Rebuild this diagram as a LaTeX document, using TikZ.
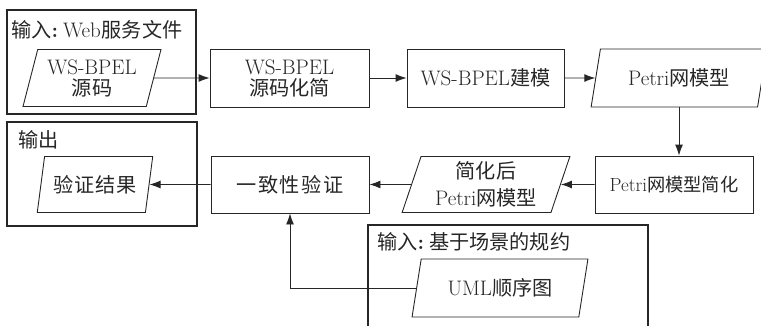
\documentclass[tikz,border=0pt]{standalone}
\usepackage{fontspec}
\newfontfamily\cjk{Noto Sans CJK SC}[Scale=0.96]
\newcommand\zhtext[1]{{\cjk #1}}
\usetikzlibrary{shapes.geometric,arrows.meta}
\definecolor{ink}{gray}{0.15}
\tikzset{
  base/.style={draw=ink, line width=0.9pt, inner sep=0pt, align=center, text=ink,
    font=\fontsize{21}{22}\selectfont},
  procbox/.style={base, rectangle},
  databox/.style={base, trapezium, trapezium left angle=72, trapezium right angle=108,
    trapezium stretches=true},
  frame/.style={draw=ink, line width=1.7pt, rectangle, inner sep=0pt},
  frametitle/.style={anchor=west, inner sep=0pt, text=ink, font=\fontsize{21}{22}\selectfont},
  arr/.style={draw=ink, line width=0.9pt, -{Latex[length=11pt,width=8pt]}}
}
\begin{document}
\begin{tikzpicture}[x=1pt, y=-1pt]
  \useasboundingbox (0,0) rectangle (761,325);
  \clip (0,0) rectangle (761,325);

  % containers for inputs and output
  \node[frame, minimum width=189, minimum height=104] (inframe) at (101.5,62) {};
  \node[frametitle] (intitle) at (11,30) {\zhtext{输入}\textbf{:}\hspace{5pt}Web\hspace{1pt}\zhtext{服务文件}};
  \node[frame, minimum width=190, minimum height=104] (outframe) at (102,174) {};
  \node[frametitle] (outtitle) at (18,140) {\zhtext{输出}};
  \node[frame, minimum width=280, minimum height=140] (specframe) at (508,295) {};
  \node[frametitle] (spectitle) at (377,242) {\zhtext{输入}\textbf{:}\hspace{5pt}\zhtext{基于场景的规约}};

  % first row
  \node[databox, minimum width=138, minimum height=57] (src) at (92,78)
    {WS-BPEL\\[-1pt]\zhtext{源码}};
  \node[procbox, minimum width=159, minimum height=58] (simp) at (289.5,78)
    {WS-BPEL\\[-1pt]\zhtext{源码化简}};
  \node[procbox, minimum width=157, minimum height=58] (model) at (485.5,78)
    {WS-BPEL\zhtext{建模}};
  \node[databox, minimum width=176, minimum height=58] (petri) at (679,78)
    {Petri\zhtext{网模型}};

  % second row
  \node[procbox, minimum width=158, minimum height=57,
        font=\fontsize{19}{22}\selectfont] (reduce) at (674,184.5)
    {Petri\zhtext{网模型简化}};
  \node[databox, minimum width=168, minimum height=56] (reduced) at (486,184.5)
    {\zhtext{简化后}\\[5pt]Petri\zhtext{网模型}};
  \node[procbox, minimum width=158, minimum height=57] (verify) at (290,184.5)
    {\zhtext{一\hspace{1.5pt}致\hspace{1.5pt}性\hspace{1.5pt}验\hspace{1.5pt}证}};
  \node[databox, minimum width=116, minimum height=56] (result) at (95,184.5)
    {\zhtext{验\hspace{1pt}证\hspace{1pt}结\hspace{1pt}果}};

  % specification input
  \node[databox, minimum width=176, minimum height=58] (uml) at (500,288)
    {UML\zhtext{顺序图}};

  % flow
  \draw[arr] (src.east) -- (simp.west);
  \draw[arr] (simp.east) -- (model.west);
  \draw[arr] (model.east) -- (petri.west);
  \draw[arr] (petri.south) -- (petri.south |- reduce.north);
  \draw[arr] (reduce.west) -- (reduced.east);
  \draw[arr] (reduced.west) -- (verify.east);
  \draw[arr] (verify.west) -- (result.east);
  \draw[arr] (uml.west) -| (verify.south);
\end{tikzpicture}
\end{document}
